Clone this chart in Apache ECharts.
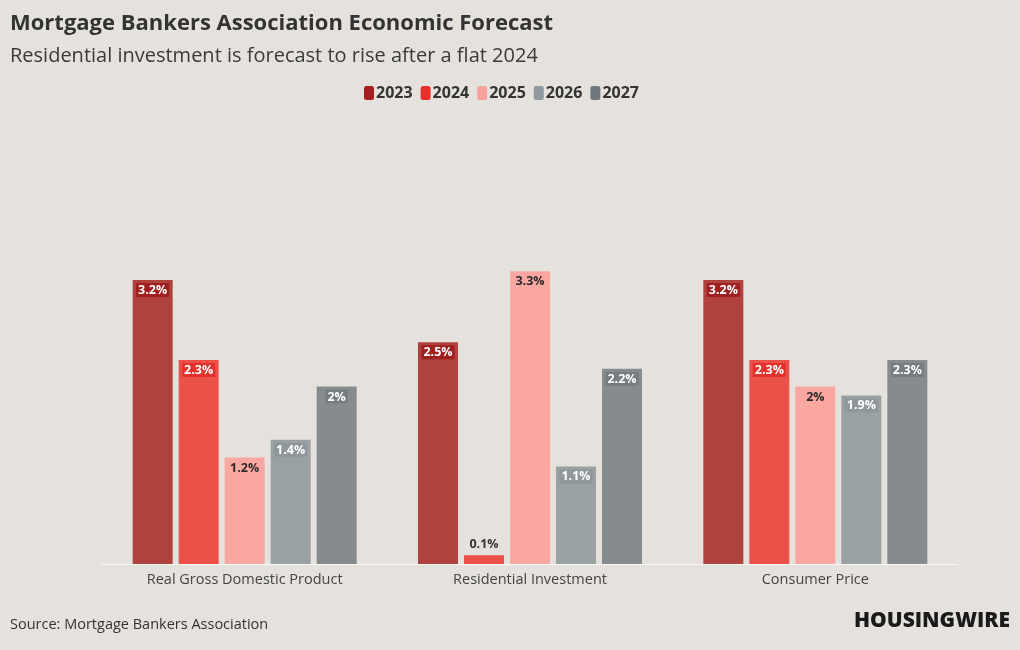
<!DOCTYPE html>
<html><head><meta charset="utf-8">
<script src="https://cdn.jsdelivr.net/npm/echarts@6/dist/echarts.min.js"></script>
<style>html,body{margin:0;padding:0;background:#e5e2de}#c{width:1020px;height:650px}</style>
</head><body><div id="c"></div>
<script>
const categories = ['Real Gross Domestic Product', 'Residential Investment', 'Consumer Price'];
const years = ['2023', '2024', '2025', '2026', '2027'];
const v2023 = [3.2, 2.5, 3.2];
const v2024 = [2.3, 0.1, 2.3];
const v2025 = [1.2, 3.3, 2.0];
const v2026 = [1.4, 1.1, 1.9];
const v2027 = [2.0, 2.2, 2.3];
const seriesValues = [v2023, v2024, v2025, v2026, v2027];

const barColors = ['#b0423e', '#ec5148', '#f9a7a0', '#9aa1a3', '#868b8e'];
const legendColors = ['#a51e1f', '#e8312b', '#f8a09a', '#8e9aa0', '#6f777c'];
const labelBg = ['#a01f1f', '#e3322c', null, '#8f979b', '#767c80'];
const labelColor = ['#fff', '#fff', '#2a2a2a', '#fff', '#fff'];
const FONT = 'Open Sans';

const chart = echarts.init(document.getElementById('c'));
chart.setOption({
  backgroundColor: '#e5e2de',
  animation: false,
  textStyle: { fontFamily: FONT },
  title: [{
    text: 'Mortgage Bankers Association Economic Forecast',
    left: 10, top: 13, padding: 0,
    textStyle: { fontFamily: FONT, fontSize: 22, fontWeight: 'bold', color: '#333' }
  }, {
    text: 'Residential investment is forecast to rise after a flat 2024',
    left: 10, top: 46, padding: 0,
    textStyle: { fontFamily: FONT, fontSize: 20, fontWeight: 'normal', color: '#3a3a3a' }
  }, {
    text: 'Source: Mortgage Bankers Association',
    left: 10, top: 617, padding: 0,
    textStyle: { fontFamily: FONT, fontSize: 14.5, fontWeight: 'normal', color: '#333' }
  }],
  graphic: [{
    type: 'text', right: 10, top: 611,
    style: { text: 'HOUSINGWIRE', font: '800 21px "Open Sans", sans-serif', fill: '#1a1a1a' }
  }],
  legend: {
    top: 80, left: 359,
    itemWidth: 10, itemHeight: 14, itemGap: 8,
    icon: 'roundRect',
    textStyle: { fontFamily: FONT, fontSize: 16, fontWeight: 'bold', color: '#333', padding: [0, 0, 0, -3] },
    data: years.map((y, i) => ({ name: y, itemStyle: { color: legendColors[i] } }))
  },
  grid: { left: 102, right: 62, top: 209, bottom: 86 },
  xAxis: {
    type: 'category', data: categories,
    axisLine: { lineStyle: { color: '#f7f7f5', width: 1 } },
    axisTick: { show: false },
    axisLabel: { fontFamily: FONT, fontSize: 14.5, color: '#444', margin: 8 }
  },
  yAxis: { type: 'value', min: 0, max: 4, show: false, splitLine: { show: false } },
  series: years.map((y, i) => ({
    name: y, type: 'bar',
    barWidth: 40, barGap: '15%',
    itemStyle: { color: barColors[i] },
    data: seriesValues[i].map(v => {
      const small = v < 0.5;
      return {
        value: v,
        label: {
          show: true,
          position: small ? 'top' : 'insideTop',
          distance: small ? 4 : 3,
          formatter: p => p.value + '%',
          fontFamily: FONT, fontSize: 12.5, fontWeight: 'bold',
          color: small ? '#333' : labelColor[i],
          backgroundColor: small ? 'transparent' : (labelBg[i] || 'transparent'),
          padding: [1, 2, 0, 2]
        }
      };
    })
  }))
});
</script></body></html>
